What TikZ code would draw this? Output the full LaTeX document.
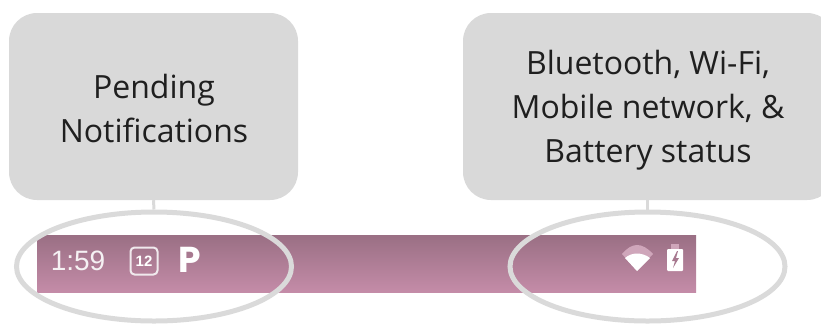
\documentclass[tikz,border=0pt]{standalone}
\usepackage{fontspec}
\usetikzlibrary{shapes.geometric}
\setmainfont{Open Sans}
\newfontfamily\barfont{Liberation Sans}
\newfontfamily\parkfont{Poppins}
\definecolor{boxgray}{HTML}{D9D9D9}
\definecolor{ringgray}{HTML}{DADADA}
\definecolor{bartop}{HTML}{9A6F84}
\definecolor{barbot}{HTML}{C48CA8}
\definecolor{wifidim}{HTML}{CFA6BA}
\tikzset{
  x=1pt,y=-1pt,
  callout/.style={draw=none,fill=boxgray,rounded corners=28pt,align=center,inner sep=0pt,font=\fontsize{32}{44}\selectfont,text=black!88},
  ring/.style={draw=ringgray,line width=5pt,ellipse,inner sep=0pt,fill=none},
  stem/.style={draw=ringgray,line width=3pt},
  bartext/.style={inner sep=0pt,text=white!90!bartop},
}
\begin{document}
\begin{tikzpicture}
\useasboundingbox (0,0) rectangle (821,325);
\clip (0,0) rectangle (821,325);
\node[callout,minimum width=289pt,minimum height=187pt] (left) at (153.5,106.5) {};
\node[callout,minimum width=372pt,minimum height=187pt] (right) at (649,106.5) {};
\node[align=center,inner sep=0pt,font=\fontsize{32}{44}\selectfont,text=black!88] (lefttext) at (154,108.5) {Pending\\Notifications};
\node[align=center,inner sep=0pt,font=\fontsize{32}{44}\selectfont,text=black!88] (righttext) at (648,110) {Bluetooth, Wi-Fi,\\Mobile network, \&\\Battery status};
\shade[bottom color=barbot,top color=bartop] (37,235) rectangle (696,292);
\node[bartext,font=\barfont\fontsize{28}{28}\selectfont] (time) at (78,261) {1:59};
\node[draw=white!85!bartop,line width=2pt,rounded corners=4pt,minimum width=27pt,minimum height=27pt,inner sep=0pt,font=\barfont\bfseries\fontsize{15}{15}\selectfont,text=white] (cal) at (144,261) {12};
\node[inner sep=0pt,text=white,font=\parkfont\bfseries\fontsize{36}{36}\selectfont] (park) at (190,260) {P};
\fill[wifidim] (637,271) -- (622,254) .. controls (632,242) and (642,242) .. (653,254) -- cycle;
\fill[white] (637,271) -- (625,258) .. controls (632,252) and (642,252) .. (650,258) -- cycle;
\fill[white,rounded corners=1pt] (667,249) rectangle (683,271);
\fill[wifidim] (671,244) rectangle (679,249);
\fill[bartop!70!barbot] (677,251) -- (672,261) -- (675,261) -- (673,268) -- (679,258) -- (676,258) -- (678,251) -- cycle;
\node[ring,minimum width=275pt,minimum height=109pt] (ringl) at (154,266.5) {};
\node[ring,minimum width=275pt,minimum height=109pt] (ringr) at (647.5,266.5) {};
\draw[stem] (left.south) -- (ringl.north);
\draw[stem] (right.south -| ringr.north) -- (ringr.north);
\end{tikzpicture}
\end{document}
